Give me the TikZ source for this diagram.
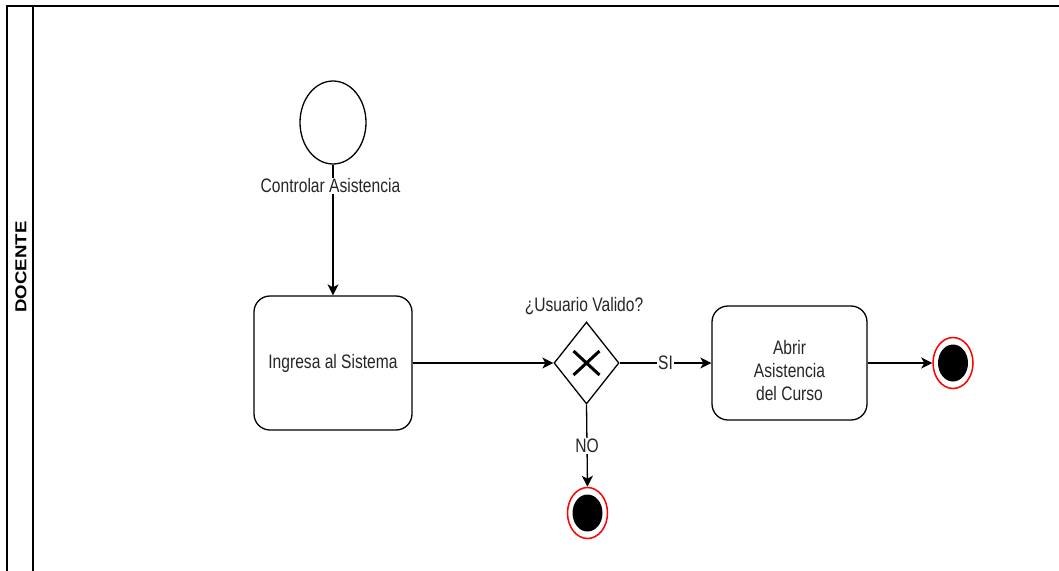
\documentclass[tikz,border=0pt]{standalone}
\usepackage{fontspec}
\setmainfont{Liberation Sans}[FakeStretch=0.8]
\newfontfamily\lanefont{Liberation Sans}
\usetikzlibrary{shapes.geometric,arrows.meta}

\tikzset{
  stroke/.style={line width=1.3pt, draw=black},
  task/.style={stroke, rounded corners=16pt, fill=white, inner sep=0pt, text=black!85},
  startev/.style={stroke, ellipse, fill=white, inner sep=0pt, minimum width=66pt, minimum height=83pt},
  gateway/.style={stroke, diamond, fill=white, inner sep=0pt, minimum width=65pt, minimum height=82pt},
  endring/.style={ellipse, draw=red, line width=1.5pt, fill=white, inner sep=0pt, minimum width=40pt, minimum height=51pt},
  endcore/.style={ellipse, fill=black, inner sep=0pt, minimum width=30pt, minimum height=37pt},
  flow/.style={stroke, -{Stealth[length=11pt, width=11pt, inset=3pt]}},
  lbl/.style={text=black!85, inner sep=0pt},
  flowlbl/.style={lbl, fill=white, inner sep=1pt},
}

\begin{document}
\begin{tikzpicture}[x=1pt, y=-1pt, font=\fontsize{19.5}{22.8}\selectfont]
  % canvas
  \fill[white] (0,0) rectangle (1059,570);
  \useasboundingbox (0,0) rectangle (1059,570);
  \clip (0,0) rectangle (1059,570);

  % pool / lane frame
  \draw[line width=1.2pt] (1080,6) -- (7,6) -- (7,590);
  \draw[line width=1.2pt] (33,6) -- (33,590);
  \node[rotate=90, inner sep=0pt] (lane) at (21,267)
    {\lanefont\bfseries\fontsize{18.6}{20}\selectfont\scalebox{1}[0.85]{DOCENTE}};

  % events, tasks, gateway
  \node[startev] (start) at (333,122.5) {};
  \node[task, minimum width=158pt, minimum height=134pt] (t1) at (333,363) {Ingresa al Sistema};
  \node[gateway] (gw) at (586.5,363) {};
  \node[task, minimum width=155pt, minimum height=114pt] (t2) at (789.5,363) {};
  \node[lbl, align=center, yshift=-7.5pt] (t2txt) at (t2.center) {Abrir\\Asistencia\\del Curso};
  \node[endring] (endR) at (953,363) {};
  \node[endcore] (endRc) at (endR.center) {};
  \node[endring] (endB) at (587.5,513) {};
  \node[endcore] (endBc) at (endB.center) {};

  % exclusive gateway marker
  \draw[line width=3pt] ([shift={(-13,-12)}]gw.center) -- ([shift={(13,12)}]gw.center)
                        ([shift={(-13,12)}]gw.center) -- ([shift={(13,-12)}]gw.center);

  % labels
  \node[lbl, anchor=base] (gwlbl) at (584,311.7) {¿Usuario Valido?};

  % sequence flows
  \draw[flow] (start) -- (t1);
  \node[flowlbl, anchor=base] (startlbl) at (330.5,192.7) {Controlar Asistencia};
  \draw[flow] (t1.east) -- (gw.west);
  \draw[flow] (gw.east) -- node[flowlbl] (si) {SI} (t2.west);
  \draw[flow] (gw.south) -- node[flowlbl] (no) {NO} (endB.north);
  \draw[flow] (t2.east) -- (endR.west);
\end{tikzpicture}
\end{document}
